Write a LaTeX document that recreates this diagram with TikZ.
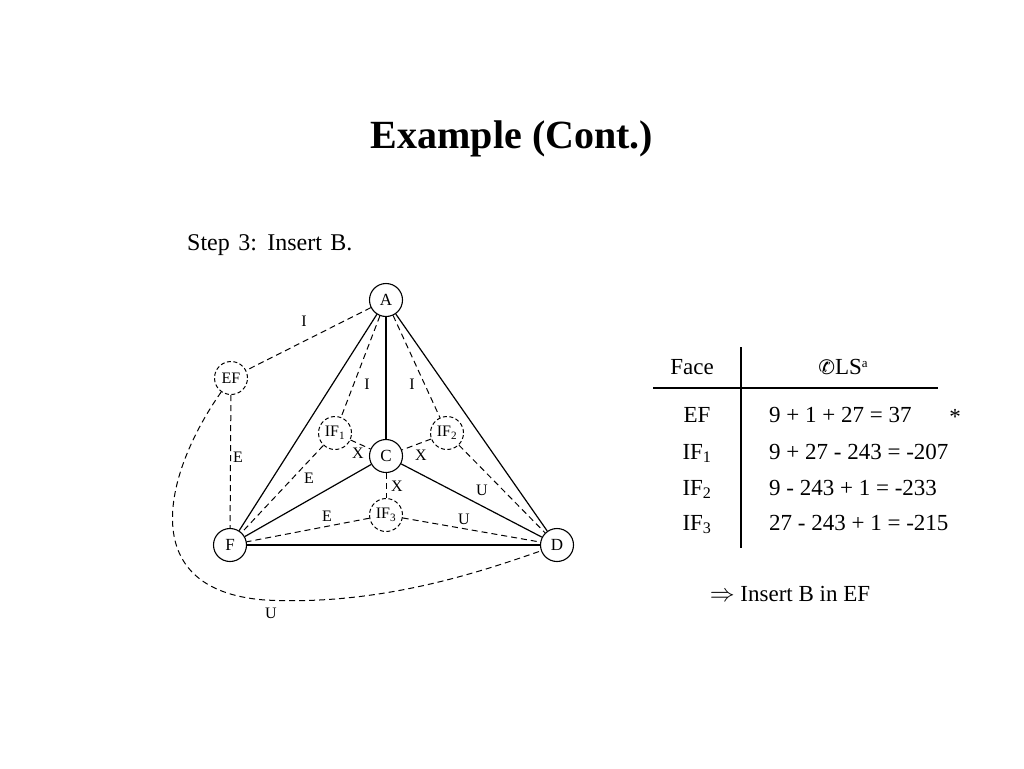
\documentclass[tikz,border=0pt]{standalone}
\usepackage{fontspec}
\setmainfont{Liberation Serif}
\newfontfamily\wideserif{Liberation Serif}[WordSpace=1.4]
\newfontfamily\symfont{DejaVu Sans}
\begin{document}
\begin{tikzpicture}[x=1pt,y=-1pt,
  vtx/.style={circle,draw,line width=1.1pt,minimum size=33pt,inner sep=0pt,font=\fontsize{17}{17}\selectfont},
  face/.style={circle,draw,dash pattern=on 4pt off 2.5pt,line width=1pt,minimum size=33pt,inner sep=0pt,font=\fontsize{16}{16}\selectfont},
  sol/.style={line width=1.2pt},
  dsh/.style={dash pattern=on 6pt off 4pt,line width=1pt},
  lbl/.style={font=\fontsize{16}{16}\selectfont,inner sep=0pt},
  tx/.style={font=\fontsize{23}{28}\selectfont,inner sep=0pt,anchor=base}]
\useasboundingbox (0,0) rectangle (1024,768);
\node[font=\fontsize{40}{44}\selectfont\bfseries,anchor=base,inner sep=0pt] (title) at (512,148) {Example (Cont.)};
\node[tx,anchor=base west,font=\wideserif\fontsize{24}{28}\selectfont] (step) at (187,250) {Step 3: Insert B.};
% vertices
\node[vtx] (A) at (386,300) {A};
\node[vtx] (C) at (386,456) {C};
\node[vtx] (F) at (230,545) {F};
\node[vtx] (D) at (557,545) {D};
% faces
\node[face] (EF) at (231,378) {EF};
\node[face] (IF1) at (335,433) {IF\textsubscript{1}};
\node[face] (IF2) at (447,433) {IF\textsubscript{2}};
\node[face] (IF3) at (386,515) {IF\textsubscript{3}};
% solid edges
\draw[sol] (A) -- (F);
\draw[sol] (A) -- (D);
\draw[sol] (A) -- (C);
\draw[sol] (C) -- (F);
\draw[sol] (C) -- (D);
\draw[sol] (F) -- (D);
% dashed dual edges
\draw[dsh] (A) -- (EF);
\draw[dsh] (EF) -- (F);
\draw[dsh] (A) -- (IF1);
\draw[dsh] (A) -- (IF2);
\draw[dsh] (IF1) -- (C);
\draw[dsh] (IF2) -- (C);
\draw[dsh] (IF1) -- (F);
\draw[dsh] (IF2) -- (D);
\draw[dsh] (C) -- (IF3);
\draw[dsh] (IF3) -- (F);
\draw[dsh] (IF3) -- (D);
\draw[dsh] (EF.235) .. controls (166,470) and (132,590) .. (265,600) .. controls (380,606) and (480,572) .. (D.200);
% edge labels
\node[lbl] (l1) at (304,321) {I};
\node[lbl] (l2) at (367,384) {I};
\node[lbl] (l3) at (412,384) {I};
\node[lbl] (l4) at (238,457) {E};
\node[lbl] (l5) at (309,478) {E};
\node[lbl] (l6) at (358,453) {X};
\node[lbl] (l7) at (421,455) {X};
\node[lbl] (l8) at (397,486) {X};
\node[lbl] (l9) at (327,516) {E};
\node[lbl] (l10) at (464,519) {U};
\node[lbl] (l11) at (482,490) {U};
\node[lbl] (l12) at (271,613) {U};
% table
\coordinate (vt) at (741,347);
\coordinate (vb) at (741,548);
\coordinate (hl) at (653,388);
\coordinate (hr) at (938,388);
\draw[line width=1.2pt] (vt) -- (vb);
\draw[line width=1.2pt] (hl) -- (hr);
\node[tx] (hface) at (692,374) {Face};
\node[tx] (hls) at (843,374) {{\symfont\fontsize{20}{20}\selectfont ✆}LS{\fontsize{13}{13}\selectfont\raisebox{7pt}{a}}};
\node[tx] (r1) at (697,422) {EF};
\node[tx] (r2) at (697,459) {IF\textsubscript{1}};
\node[tx] (r3) at (697,495) {IF\textsubscript{2}};
\node[tx] (r4) at (697,530) {IF\textsubscript{3}};
\node[tx,anchor=base west] (v1) at (769,422) {9 + 1 + 27 = 37};
\node[tx,anchor=base west] (v2) at (769,459) {9 + 27 - 243 = -207};
\node[tx,anchor=base west] (v3) at (769,495) {9 - 243 + 1 = -233};
\node[tx,anchor=base west] (v4) at (769,530) {27 - 243 + 1 = -215};
\node[tx] (star) at (955,424) {*};
\node[tx] (concl) at (790,601) {$\Rightarrow$ Insert B in EF};
\end{tikzpicture}
\end{document}
